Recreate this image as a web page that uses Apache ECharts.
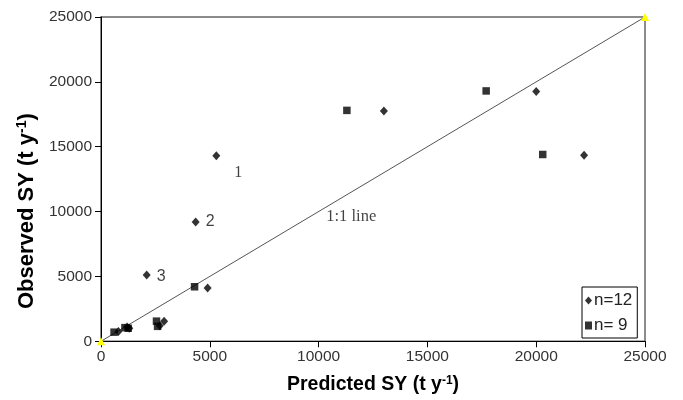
<!DOCTYPE html>
<html>
<head>
<meta charset="utf-8">
<script src="https://cdn.jsdelivr.net/npm/echarts@6/dist/echarts.min.js"></script>
<style>html,body{margin:0;padding:0;background:#fff}#c{width:683px;height:400px}</style>
</head>
<body>
<div id="c"></div>
<script>
// n=12 series (diamonds): [predicted, observed]
const n12Points = [
  [5300, 14300], [4350, 9200], [2100, 5100], [4900, 4100],
  [13000, 17750], [20000, 19250], [22200, 14350], [2900, 1550],
  [2700, 1200], [1300, 1000], [800, 750], [1200, 1100]
];
// index in n12Points -> annotation label
const pointLabels = { 0: '1', 1: '2', 2: '3' };
// n=9 series (squares)
const n9Points = [
  [11300, 17800], [17700, 19300], [20300, 14400], [4300, 4200],
  [2550, 1550], [2600, 1150], [1100, 1050], [1250, 1000], [600, 700]
];
// 1:1 line end points
const oneToOne = [[0, 0], [25000, 25000]];
const lineLabel = { text: '1:1 line', at: [11500, 9600] };
const ticks = { min: 0, max: 25000, interval: 5000 };

const chart = echarts.init(document.getElementById('c'));
const labelOffsets = { '1': [9, 17], '2': [1, 0], '3': [1, 1] };

const n12Data = n12Points.map((p, i) => {
  if (pointLabels[i] !== undefined) {
    const t = pointLabels[i];
    return {
      value: p,
      label: {
        show: true, formatter: t, position: 'right', offset: labelOffsets[t],
        fontFamily: t === '1' ? 'Liberation Serif' : 'Liberation Sans',
        fontSize: 16, color: '#111'
      }
    };
  }
  return p;
});

function nameStyle(size, padding) {
  return {
    fontFamily: 'Liberation Sans', fontWeight: 'bold', fontSize: size, color: '#000',
    padding: padding,
    rich: {
      b: { fontFamily: 'Liberation Sans', fontWeight: 'bold', fontSize: size, color: '#000' },
      sup: { fontFamily: 'Liberation Sans', fontWeight: 'bold', fontSize: Math.round(size * 0.62), color: '#000', verticalAlign: 'top', lineHeight: size + 2 }
    }
  };
}

const axisCommon = {
  type: 'value', min: ticks.min, max: ticks.max, interval: ticks.interval,
  splitLine: { show: false },
  axisLine: { show: true, lineStyle: { color: '#000', width: 1 } },
  axisTick: { show: true, length: 6, lineStyle: { color: '#000' } }
};
const tickLabel = { fontFamily: 'Liberation Sans', fontSize: 15.5, color: '#333', formatter: v => String(v) };

chart.setOption({
  animation: false,
  grid: {
    left: 101, right: 38, top: 17, bottom: 58,
    show: true, borderColor: '#666', borderWidth: 1.5, backgroundColor: 'transparent'
  },
  xAxis: Object.assign({}, axisCommon, {
    name: '{b|Predicted SY (t y}{sup|-1}{b|)}',
    nameLocation: 'middle', nameGap: 33, nameTextStyle: nameStyle(19.5, 0),
    axisLabel: Object.assign({ margin: 7 }, tickLabel)
  }),
  yAxis: Object.assign({}, axisCommon, {
    name: '{b|Observed SY (t y}{sup|-1}{b|)}',
    nameLocation: 'middle', nameGap: 62, nameTextStyle: nameStyle(22, [0, 64, 0, 0]),
    axisLabel: Object.assign({ margin: 9 }, tickLabel)
  }),
  legend: {
    orient: 'vertical', left: 582, top: 287,
    padding: [5, 5, 4, 3], itemGap: 8, itemWidth: 7, itemHeight: 8,
    borderColor: '#000', borderWidth: 1, backgroundColor: '#fff',
    textStyle: { fontFamily: 'Liberation Sans', fontSize: 17, color: '#222', padding: [0, 0, 0, -3] },
    data: [
      { name: 'n=12', icon: 'diamond' },
      { name: 'n= 9', icon: 'rect' }
    ]
  },
  series: [
    {
      type: 'line', name: '1:1', data: oneToOne,
      symbol: 'triangle', symbolSize: 8, showSymbol: true,
      itemStyle: { color: '#ffff00' },
      lineStyle: { color: '#555', width: 1 }, z: 1, silent: true
    },
    {
      type: 'scatter', name: 'lineLabel', data: [lineLabel.at], symbolSize: 0,
      label: {
        show: true, formatter: lineLabel.text, position: 'inside',
        fontFamily: 'Liberation Serif', fontSize: 16.5, color: '#111'
      }, z: 2, silent: true
    },
    {
      type: 'scatter', name: 'n=12', data: n12Data, symbol: 'diamond', symbolSize: [8, 9],
      itemStyle: { color: '#000' }, z: 3
    },
    {
      type: 'scatter', name: 'n= 9', data: n9Points, symbol: 'rect', symbolSize: 7.5,
      itemStyle: { color: '#000' }, z: 3
    }
  ]
});
</script>
</body>
</html>
